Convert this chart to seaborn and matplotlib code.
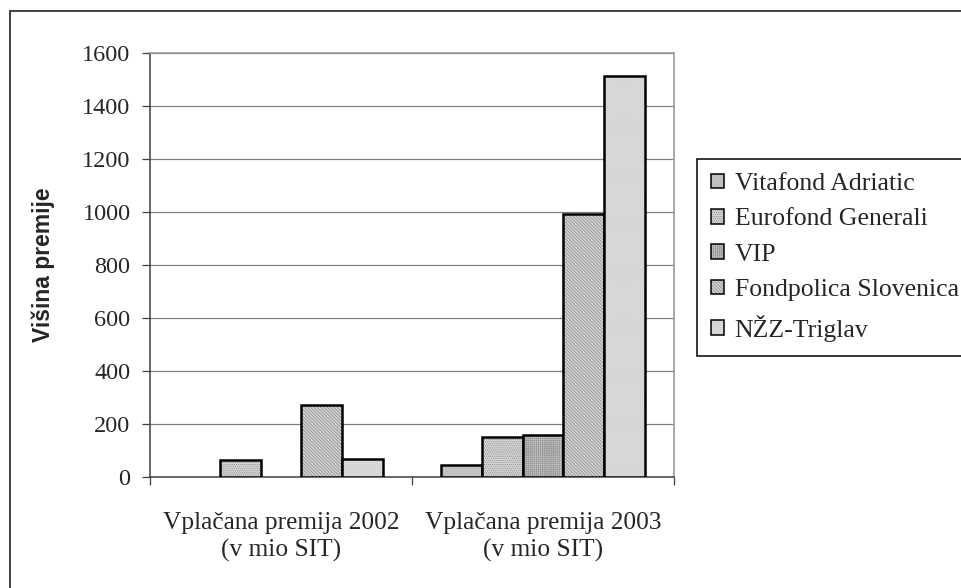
import matplotlib
matplotlib.use("Agg")
import matplotlib.pyplot as plt
import matplotlib.patches as mpatches
import seaborn as sns
import pandas as pd

# ---- data ----
categories = ["Vplačana premija 2002\n(v mio SIT)", "Vplačana premija 2003\n(v mio SIT)"]
companies = ["Vitafond Adriatic", "Eurofond Generali", "VIP", "Fondpolica Slovenica", "NŽZ-Triglav"]
values_2002 = [0, 63, 0, 273, 69]
values_2003 = [45, 152, 160, 994, 1512]
y_ticks = [0, 200, 400, 600, 800, 1000, 1200, 1400, 1600]
y_label = "Višina premije"

# ---- styles ----
face_colors = ["#c0c0c0", "#dadada", "#d2d2d2", "#d6d6d6", "#dcdcdc"]
hatches = [None, "........", "++++++++", "\\\\\\\\\\\\\\\\\\\\", "........"]
hatch_colors = ["#000000", "#8a8a8a", "#9a9a9a", "#8e8e8e", "#cacaca"]

rows = []
for comp, v2, v3 in zip(companies, values_2002, values_2003):
    rows.append({"cat": categories[0], "company": comp, "value": v2})
    rows.append({"cat": categories[1], "company": comp, "value": v3})
df = pd.DataFrame(rows)

sns.set_style("white")
plt.rcParams["font.family"] = ["Liberation Serif", "DejaVu Serif"]
plt.rcParams["hatch.linewidth"] = 0.6

fig = plt.figure(figsize=(9.62, 5.88), dpi=100)
ax = fig.add_axes([150 / 962, 1 - 477 / 588, (674 - 150) / 962, (477 - 53) / 588])

sns.barplot(data=df, x="cat", y="value", hue="company", order=categories,
            hue_order=companies, palette=dict(zip(companies, face_colors)),
            width=0.775, saturation=1, edgecolor="black", linewidth=1.8,
            legend=False, ax=ax, zorder=3)

for i, cont in enumerate(ax.containers):
    for p in cont.patches:
        if hatches[i]:
            p.set_hatch(hatches[i])
            p._hatch_color = matplotlib.colors.to_rgba(hatch_colors[i])
        if p.get_height() == 0:
            p.set_linewidth(0)

ax.set_ylim(0, 1600)
ax.set_xlim(-0.5, 1.5)
ax.set_yticks(y_ticks)
ax.set_yticklabels([str(t) for t in y_ticks])
ax.yaxis.grid(True, color="#7f7f7f", linewidth=0.9, zorder=0)
ax.set_axisbelow(True)

ax.set_xlabel("")
ax.set_ylabel(y_label, fontsize=16.5, fontweight="bold",
              family=["Liberation Sans", "DejaVu Sans"])
ax.yaxis.set_label_coords((55 - 150) / 524, 0.5)

ax.tick_params(axis="y", which="major", direction="out", length=6, width=0.9,
               color="#404040", pad=8, labelsize=17.5, left=True)
ax.tick_params(axis="x", which="major", length=0, pad=25, labelsize=18.3)
ax.set_xticks([-0.5, 0.5, 1.5], minor=True)
ax.tick_params(axis="x", which="minor", direction="out", length=6, width=0.9,
               color="#404040", bottom=True)
for lab in ax.get_xticklabels():
    lab.set_linespacing(1.3)

for s in ["left", "bottom"]:
    ax.spines[s].set_color("#404040")
    ax.spines[s].set_linewidth(1.1)
for s in ["top", "right"]:
    ax.spines[s].set_visible(True)
    ax.spines[s].set_color("#9a9a9a")
    ax.spines[s].set_linewidth(1.2)

leg = fig.legend(ax.containers, companies, loc="upper left",
                 bbox_to_anchor=(697 / 962, 1 - 159 / 588),
                 bbox_transform=fig.transFigure, fontsize=18.5, frameon=True,
                 fancybox=False, framealpha=1, edgecolor="black",
                 handlelength=0.5, handleheight=0.5, handletextpad=0.42,
                 labelspacing=0.52, borderpad=0.55, borderaxespad=0)
leg.get_frame().set_linewidth(1.1)
for h in leg.legend_handles:
    h.set_linewidth(1.1)

border = mpatches.Rectangle((9.5 / 962, -0.2), 1.2, 1.2 - 10.5 / 588,
                            transform=fig.transFigure, fill=False,
                            edgecolor="#222222", linewidth=1.2)
fig.patches.append(border)

fig.savefig("out.png", dpi=100)
